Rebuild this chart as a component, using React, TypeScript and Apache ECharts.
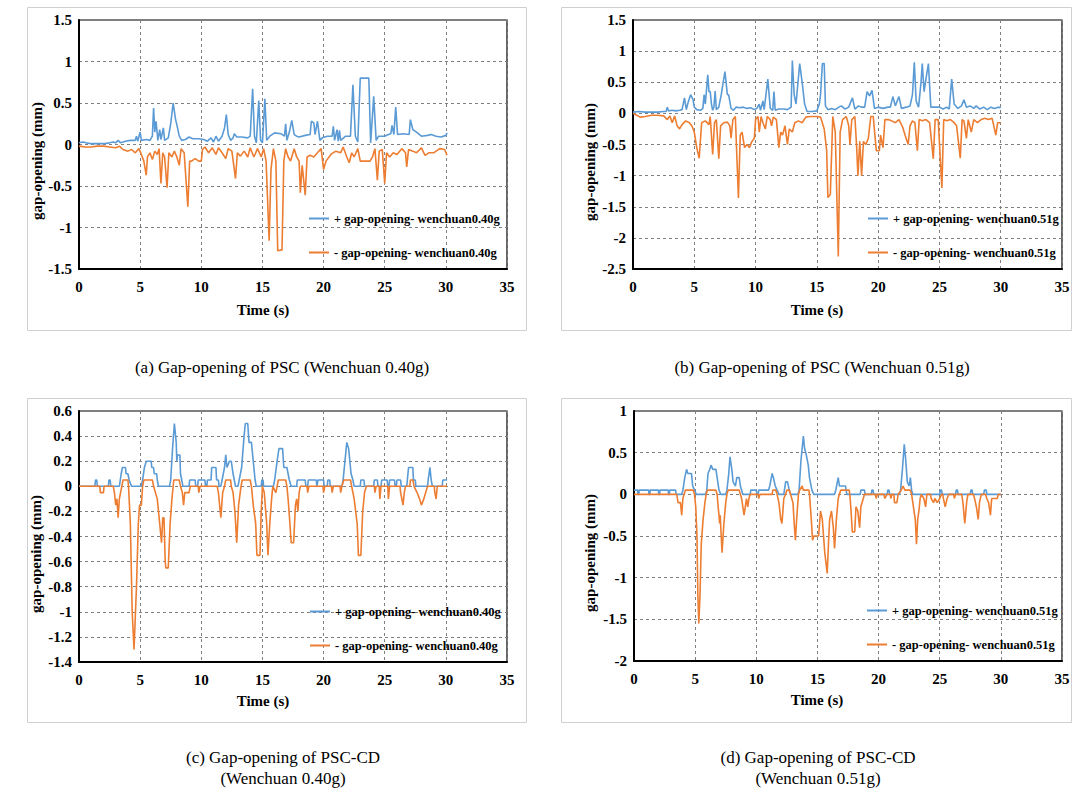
import React, { useEffect, useRef } from "react";
import * as echarts from "echarts";

type Pt = [number, number];

// ---------- data (time s, gap-opening mm) ----------
const aPos: Pt[] = [[0,0.02],[0.3,0.03],[0.6,0.02],[1,0.01],[1.5,0.01],[2,0.01],[2.5,0.02],[2.8,0.03],[3,0.02],[3.2,0.05],[3.4,0.02],[3.8,0.04],[4.2,0.05],[4.6,0.05],[4.7,0.1],[4.8,0.04],[5.0,0.15],[5.1,0.05],[5.5,0.06],[5.8,0.05],[6.0,0.1],[6.1,0.44],[6.2,0.15],[6.3,0.28],[6.45,0.05],[6.6,0.18],[6.7,0.06],[6.9,0.2],[7.0,0.05],[7.3,0.08],[7.5,0.25],[7.7,0.5],[7.9,0.3],[8.0,0.24],[8.2,0.1],[8.4,0.05],[8.7,0.06],[9.0,0.09],[9.3,0.07],[9.8,0.07],[10.2,0.06],[10.5,0.04],[10.8,0.08],[11.0,0.03],[11.2,0.1],[11.4,0.04],[11.7,0.1],[11.9,0.2],[12.05,0.36],[12.2,0.12],[12.4,0.05],[12.6,0.08],[12.7,0.13],[12.9,0.09],[13.3,0.09],[13.8,0.08],[14.0,0.1],[14.2,0.67],[14.35,0.1],[14.5,0.02],[14.7,0.53],[14.85,0.05],[15.0,0.02],[15.2,0.55],[15.35,0.05],[15.6,0.1],[16.0,0.14],[16.5,0.13],[16.8,0.1],[16.9,0.25],[17.0,0.05],[17.2,0.15],[17.4,0.29],[17.6,0.12],[17.8,0.1],[18.0,0.09],[18.5,0.11],[18.9,0.12],[19.0,0.28],[19.2,0.26],[19.3,0.12],[19.5,0.28],[19.7,0.05],[19.9,0.08],[20.3,0.1],[20.7,0.1],[20.8,0.22],[20.9,0.05],[21.1,0.18],[21.2,0.04],[21.3,0.17],[21.4,0.05],[21.8,0.1],[22.2,0.1],[22.4,0.72],[22.6,0.1],[22.8,0.03],[23.0,0.8],[23.7,0.8],[23.85,0.02],[24.1,0.58],[24.3,0.05],[24.5,0.1],[25.0,0.1],[25.3,0.12],[25.5,0.13],[25.6,0.23],[25.75,0.12],[25.9,0.45],[26.05,0.12],[26.5,0.13],[27.0,0.12],[27.1,0.3],[27.3,0.18],[27.6,0.15],[28.0,0.1],[28.5,0.11],[28.8,0.12],[29.2,0.1],[29.6,0.09],[30.0,0.11],[30.1,0.14]];
const aNeg: Pt[] = [[0,-0.02],[0.5,-0.03],[1,-0.03],[1.5,-0.02],[2,-0.02],[2.5,-0.03],[3,-0.04],[3.3,-0.02],[3.6,-0.06],[4.0,-0.08],[4.3,-0.06],[4.6,-0.1],[4.9,-0.05],[5.1,-0.12],[5.3,-0.2],[5.5,-0.37],[5.6,-0.15],[5.8,-0.1],[6.0,-0.18],[6.2,-0.08],[6.4,-0.12],[6.55,-0.05],[6.7,-0.47],[6.85,-0.1],[7.0,-0.15],[7.2,-0.52],[7.35,-0.1],[7.6,-0.15],[7.8,-0.08],[8.0,-0.15],[8.2,-0.25],[8.35,-0.05],[8.6,-0.1],[8.9,-0.75],[9.05,-0.2],[9.2,-0.2],[9.5,-0.17],[9.8,-0.2],[10.0,-0.2],[10.1,-0.06],[10.3,-0.03],[10.6,-0.1],[10.9,-0.04],[11.2,-0.12],[11.4,-0.04],[11.7,-0.1],[12.0,-0.17],[12.2,-0.05],[12.5,-0.08],[12.8,-0.41],[12.95,-0.1],[13.2,-0.14],[13.5,-0.08],[13.8,-0.15],[14.0,-0.04],[14.3,-0.15],[14.6,-0.05],[14.9,-0.15],[15.1,-0.05],[15.3,-0.2],[15.55,-1.16],[15.7,-0.3],[15.9,-0.05],[16.1,-0.2],[16.25,-1.28],[16.6,-1.27],[16.75,-0.2],[16.9,-0.05],[17.1,-0.15],[17.3,-0.2],[17.6,-0.05],[17.8,-0.15],[18.0,-0.2],[18.1,-0.58],[18.25,-0.25],[18.5,-0.61],[18.65,-0.15],[18.9,-0.13],[19.2,-0.15],[19.5,-0.1],[19.8,-0.05],[20.0,-0.3],[20.2,-0.2],[20.6,-0.12],[21.0,-0.08],[21.4,-0.1],[21.6,-0.03],[21.9,-0.15],[22.1,-0.22],[22.3,-0.1],[22.5,-0.15],[22.8,-0.05],[23.0,-0.2],[23.8,-0.2],[24.0,-0.15],[24.2,-0.05],[24.4,-0.43],[24.55,-0.08],[24.8,-0.06],[25.0,-0.47],[25.15,-0.1],[25.4,-0.15],[25.7,-0.1],[26.0,-0.12],[26.4,-0.05],[26.7,-0.1],[26.8,-0.27],[26.95,-0.06],[27.3,-0.08],[27.6,-0.1],[28.0,-0.04],[28.3,-0.13],[28.6,-0.1],[29.0,-0.1],[29.5,-0.05],[29.9,-0.06],[30.1,-0.13]];

const bPos: Pt[] = [[0,0.02],[0.5,0.03],[1,0.02],[1.5,0.02],[2,0.02],[2.5,0.03],[2.7,0.03],[2.8,0.1],[2.9,0.04],[3.2,0.05],[3.5,0.04],[3.8,0.05],[4.0,0.06],[4.2,0.25],[4.35,0.06],[4.5,0.18],[4.7,0.3],[4.9,0.22],[5.0,0.1],[5.2,0.06],[5.5,0.05],[5.7,0.08],[5.8,0.3],[5.9,0.15],[6.1,0.62],[6.2,0.35],[6.3,0.35],[6.4,0.15],[6.5,0.05],[6.6,0.1],[6.7,0.36],[6.8,0.06],[7.0,0.1],[7.2,0.3],[7.5,0.67],[7.7,0.3],[7.8,0.3],[8.0,0.08],[8.2,0.05],[8.4,0.1],[8.7,0.09],[9.0,0.1],[9.3,0.08],[9.6,0.09],[9.9,0.06],[10.1,0.08],[10.3,0.15],[10.4,0.05],[10.6,0.2],[10.7,0.06],[11.0,0.55],[11.2,0.08],[11.4,0.05],[11.5,0.35],[11.6,0.05],[11.9,0.07],[12.3,0.07],[12.6,0.06],[12.9,0.1],[13.0,0.85],[13.15,0.3],[13.3,0.15],[13.6,0.8],[13.8,0.5],[14.0,0.15],[14.2,0.03],[14.6,0.03],[15.0,0.04],[15.2,0.15],[15.3,0.3],[15.45,0.8],[15.6,0.8],[15.7,0.12],[15.9,0.06],[16.2,0.08],[16.5,0.06],[16.8,0.1],[17.0,0.12],[17.3,0.07],[17.6,0.1],[17.9,0.25],[18.1,0.07],[18.4,0.12],[18.6,0.1],[18.9,0.1],[19.1,0.35],[19.3,0.28],[19.5,0.37],[19.7,0.08],[20.0,0.1],[20.4,0.08],[20.8,0.1],[21.0,0.1],[21.2,0.27],[21.4,0.12],[21.7,0.27],[21.9,0.08],[22.3,0.1],[22.6,0.12],[22.8,0.3],[22.95,0.82],[23.1,0.2],[23.3,0.1],[23.5,0.5],[23.6,0.8],[23.75,0.35],[23.9,0.55],[24.1,0.8],[24.3,0.1],[24.6,0.1],[25.0,0.1],[25.3,0.07],[25.6,0.1],[25.8,0.07],[26.0,0.55],[26.2,0.15],[26.5,0.08],[26.8,0.12],[27.0,0.22],[27.2,0.1],[27.5,0.12],[27.8,0.08],[28.0,0.12],[28.3,0.07],[28.6,0.1],[28.9,0.06],[29.2,0.1],[29.5,0.08],[29.8,0.1],[30.0,0.09]];
const bNeg: Pt[] = [[0,0],[0.3,-0.03],[0.6,-0.06],[1.0,-0.05],[1.5,-0.03],[2.0,-0.03],[2.5,-0.04],[2.8,-0.1],[3.0,-0.04],[3.2,-0.15],[3.4,-0.04],[3.6,-0.2],[3.8,-0.25],[4.0,-0.18],[4.3,-0.12],[4.6,-0.15],[4.8,-0.2],[5.0,-0.3],[5.2,-0.55],[5.4,-0.72],[5.6,-0.15],[5.9,-0.12],[6.2,-0.18],[6.3,-0.05],[6.5,-0.66],[6.65,-0.15],[6.8,-0.1],[7.0,-0.73],[7.15,-0.2],[7.4,-0.15],[7.7,-0.14],[7.9,-0.2],[8.0,-0.4],[8.15,-0.1],[8.35,-0.05],[8.6,-1.36],[8.75,-0.35],[8.9,-0.3],[9.1,-0.55],[9.3,-0.5],[9.5,-0.55],[9.7,-0.45],[9.9,-0.4],[10.0,-0.1],[10.2,-0.05],[10.3,-0.3],[10.45,-0.05],[10.6,-0.15],[10.8,-0.25],[10.95,-0.05],[11.2,-0.1],[11.3,-0.2],[11.45,-0.06],[11.7,-0.1],[11.9,-0.55],[12.05,-0.3],[12.2,-0.35],[12.4,-0.2],[12.6,-0.5],[12.75,-0.25],[13.0,-0.3],[13.2,-0.15],[13.5,-0.12],[13.8,-0.15],[14.1,-0.06],[14.5,-0.05],[15.0,-0.05],[15.3,-0.06],[15.6,-0.25],[15.8,-0.6],[15.9,-1.35],[16.1,-1.3],[16.3,-0.05],[16.5,-0.3],[16.75,-2.3],[16.9,-0.3],[17.1,-0.1],[17.4,-0.05],[17.6,-0.2],[17.7,-0.5],[17.85,-0.1],[18.1,-0.05],[18.25,-0.55],[18.35,-1.0],[18.5,-0.45],[18.65,-1.0],[18.8,-0.45],[19.0,-0.5],[19.2,-0.4],[19.4,-0.05],[19.6,-0.05],[19.85,-0.6],[20.1,-0.6],[20.2,-0.35],[20.4,-0.55],[20.55,-0.1],[20.8,-0.1],[21.1,-0.12],[21.4,-0.15],[21.7,-0.1],[22.0,-0.22],[22.2,-0.35],[22.45,-0.5],[22.6,-0.2],[22.8,-0.12],[23.0,-0.15],[23.2,-0.6],[23.35,-0.1],[23.6,-0.12],[23.9,-0.1],[24.2,-0.15],[24.5,-0.73],[24.65,-0.1],[24.9,-0.1],[25.2,-1.2],[25.35,-0.1],[25.6,-0.12],[25.9,-0.1],[26.2,-0.15],[26.4,-0.2],[26.7,-0.72],[26.85,-0.1],[27.0,-0.12],[27.2,-0.4],[27.35,-0.1],[27.6,-0.3],[27.8,-0.1],[28.1,-0.15],[28.4,-0.1],[28.7,-0.08],[29.0,-0.1],[29.3,-0.08],[29.6,-0.35],[29.75,-0.15],[30.0,-0.15]];

const cPos: Pt[] = [[0,0],[1.3,0],[1.35,0.05],[1.45,0.05],[1.5,0],[2.4,0],[2.45,0.05],[2.55,0.05],[2.6,0],[3.3,0],[3.45,0.1],[3.55,0.15],[3.8,0.15],[3.85,0.1],[4.0,0.1],[4.1,0.05],[4.3,0],[5.1,0],[5.2,0.05],[5.35,0.15],[5.5,0.2],[5.9,0.2],[5.95,0.15],[6.1,0.15],[6.15,0.1],[6.35,0.1],[6.4,0.05],[6.5,0],[7.4,0],[7.5,0.05],[7.65,0.3],[7.8,0.5],[7.95,0.35],[8.0,0.2],[8.05,0.25],[8.25,0.25],[8.3,0.1],[8.4,0.05],[8.5,0],[9.0,0],[9.05,0.05],[9.5,0.05],[9.55,0],[9.7,0],[9.75,0.05],[10.3,0.05],[10.35,0],[10.45,0],[10.5,0.05],[10.8,0.05],[10.85,0.15],[11.2,0.15],[11.25,0.05],[11.4,0.05],[11.45,0],[11.6,0],[11.7,0.05],[11.9,0.15],[12.0,0.25],[12.1,0.15],[12.3,0.2],[12.45,0.2],[12.6,0.1],[12.7,0.05],[12.8,0],[13.0,0],[13.1,0.05],[13.3,0.15],[13.5,0.4],[13.6,0.5],[13.8,0.5],[13.9,0.35],[14.1,0.35],[14.3,0.15],[14.4,0.05],[14.5,0],[14.9,0],[14.95,0.05],[15.05,0.05],[15.1,0],[15.9,0],[16.0,0.05],[16.2,0.2],[16.35,0.3],[16.65,0.3],[16.75,0.15],[17.0,0.15],[17.2,0.05],[17.35,0],[17.8,0],[17.85,0.05],[18.5,0.05],[18.55,0],[18.7,0],[18.75,0.05],[19.4,0.05],[19.45,0],[19.5,0],[19.55,0.05],[20.0,0.05],[20.05,0],[20.3,0],[20.35,0.05],[20.5,0.05],[20.55,0],[21.5,0],[21.6,0.05],[21.75,0.2],[21.9,0.35],[22.05,0.3],[22.25,0.1],[22.4,0.05],[22.5,0],[23.0,0],[23.05,0.05],[23.3,0.05],[23.35,0],[24.1,0],[24.15,0.05],[24.4,0.05],[24.45,0],[24.7,0],[24.75,0.05],[25.2,0.05],[25.25,0],[25.35,0],[25.4,0.05],[25.8,0.05],[25.85,0],[25.95,0],[26.0,0.05],[26.3,0.05],[26.35,0],[26.8,0],[26.85,0.05],[26.95,0.15],[27.3,0.15],[27.35,0.05],[27.5,0.05],[27.55,0],[28.5,0],[28.55,0.05],[28.7,0.15],[28.8,0.05],[28.9,0],[29.7,0],[29.75,0.05],[30.1,0.05]];
const cNeg: Pt[] = [[0,0],[1.7,0],[1.75,-0.05],[2.0,-0.05],[2.05,0],[2.8,0],[2.9,-0.05],[3.0,-0.15],[3.1,-0.1],[3.2,-0.25],[3.3,-0.1],[3.4,-0.05],[3.5,0],[3.6,0.05],[4.0,0.05],[4.05,0],[4.2,-0.3],[4.35,-1.0],[4.5,-1.3],[4.7,-0.8],[4.85,-0.3],[4.95,-0.15],[5.1,-0.15],[5.2,0],[5.3,0.05],[6.0,0.05],[6.1,0],[6.4,-0.1],[6.6,-0.3],[6.75,-0.45],[6.85,-0.25],[6.95,-0.25],[7.05,-0.6],[7.1,-0.65],[7.3,-0.65],[7.45,-0.3],[7.6,-0.1],[7.7,0],[7.75,0.05],[8.2,0.05],[8.3,0],[8.45,-0.05],[8.55,-0.15],[8.65,-0.05],[8.9,-0.05],[9.0,-0.05],[9.1,0],[9.75,0],[9.8,-0.05],[9.9,0],[11.3,0],[11.4,-0.05],[11.6,-0.25],[11.75,-0.05],[11.9,0],[12.0,0.05],[12.4,0.05],[12.45,0],[12.6,-0.05],[12.75,-0.2],[12.9,-0.45],[13.05,-0.15],[13.25,0],[13.35,0.05],[14.0,0.05],[14.1,0],[14.25,-0.15],[14.45,-0.3],[14.55,-0.55],[14.8,-0.55],[14.9,-0.2],[15.0,0],[15.15,-0.05],[15.35,-0.3],[15.45,-0.55],[15.6,-0.3],[15.75,-0.1],[15.85,0],[16.1,-0.05],[16.2,0],[16.3,0.05],[16.9,0.05],[17.0,0],[17.1,-0.1],[17.25,-0.3],[17.35,-0.45],[17.55,-0.45],[17.7,-0.15],[17.8,-0.1],[17.9,-0.2],[18.0,-0.05],[18.1,0],[18.65,0],[18.7,-0.05],[18.8,0],[19.95,0],[20.0,-0.05],[20.1,0],[20.65,0],[20.7,-0.05],[20.8,0],[21.35,0],[21.4,-0.05],[21.5,0],[21.65,0.05],[22.2,0.05],[22.3,0],[22.5,-0.1],[22.75,-0.3],[22.85,-0.55],[23.05,-0.55],[23.2,-0.2],[23.35,-0.05],[23.5,0],[24.15,0],[24.2,-0.05],[24.3,0],[24.55,0],[24.6,-0.1],[24.7,0],[25.25,0],[25.3,-0.1],[25.4,0],[26.25,0],[26.3,-0.05],[26.5,-0.15],[26.6,-0.05],[26.7,0],[27.05,0],[27.1,0.05],[27.3,0.05],[27.4,0],[27.65,-0.05],[27.85,-0.1],[28.0,-0.15],[28.2,-0.1],[28.35,-0.05],[28.5,0],[29.05,0],[29.1,-0.05],[29.2,-0.1],[29.3,0],[30.1,0]];

const dPos: Pt[] = [[0,0.05],[0.3,0.05],[0.32,0],[0.4,0],[0.42,0.05],[1.2,0.05],[1.22,0],[1.3,0],[1.32,0.05],[2.0,0.05],[2.02,0],[2.1,0],[2.12,0.05],[2.8,0.05],[2.82,0],[2.9,0],[2.92,0.05],[3.4,0.05],[3.45,0],[3.9,0],[4.0,0.05],[4.15,0.2],[4.3,0.3],[4.4,0.25],[4.7,0.25],[4.8,0.1],[4.95,0.05],[5.1,0],[5.85,0],[5.95,0.05],[6.05,0.25],[6.2,0.3],[6.3,0.35],[6.45,0.3],[6.7,0.3],[6.8,0.2],[6.95,0.05],[7.1,0],[7.5,0],[7.6,0.05],[7.75,0.25],[7.85,0.45],[8.0,0.3],[8.1,0.15],[8.3,0.1],[8.4,0.2],[8.6,0.2],[8.7,0.1],[8.8,0.05],[8.9,0],[9.5,0],[9.55,0.05],[10.0,0.05],[10.05,0],[10.15,0],[10.2,0.05],[11.0,0.05],[11.1,0.1],[11.3,0.25],[11.4,0.2],[11.55,0.1],[11.7,0.05],[11.85,0],[12.25,0],[12.3,0.05],[12.4,0.15],[12.55,0.15],[12.7,0.05],[12.8,0],[13.4,0],[13.5,0.05],[13.65,0.4],[13.85,0.7],[13.95,0.55],[14.05,0.5],[14.25,0.35],[14.35,0.2],[14.55,0.05],[14.7,0],[16.4,0],[16.5,0.05],[16.7,0.2],[16.8,0.1],[17.3,0.1],[17.4,0],[18.5,0],[18.55,0.05],[18.85,0.05],[18.9,0],[19.4,0],[19.45,0.05],[19.55,0.05],[19.6,0],[20.7,0],[20.75,0.05],[20.85,0.05],[20.9,0],[21.7,0],[21.8,0.05],[21.95,0.3],[22.1,0.6],[22.2,0.45],[22.35,0.15],[22.5,0.1],[22.6,0.2],[22.7,0.05],[22.8,0],[25.0,0],[25.05,0.05],[25.15,0.05],[25.2,0],[26.3,0],[26.35,0.05],[26.45,0.05],[26.5,0],[27.5,0],[27.55,0.05],[27.65,0.05],[27.7,0],[28.6,0],[28.65,0.05],[28.8,0.05],[28.85,0],[30.0,0]];
const dNeg: Pt[] = [[0,0],[3.5,0],[3.6,-0.1],[3.8,-0.1],[3.9,-0.25],[4.0,-0.05],[4.1,0],[4.2,0.05],[4.85,0.05],[4.95,0],[5.05,-0.15],[5.15,-0.5],[5.22,-1.2],[5.3,-1.55],[5.4,-1.2],[5.5,-0.6],[5.65,-0.3],[5.8,-0.1],[5.9,0],[6.0,0.05],[6.7,0.05],[6.8,0],[6.85,-0.1],[6.95,-0.25],[7.0,-0.35],[7.05,-0.25],[7.2,-0.7],[7.35,-0.35],[7.5,-0.1],[7.6,0],[7.7,0.05],[8.6,0.05],[8.7,0],[8.8,-0.05],[8.9,-0.15],[9.0,-0.25],[9.1,-0.15],[9.2,-0.05],[9.3,-0.15],[9.4,-0.05],[9.5,0],[10.15,0],[10.2,-0.05],[10.3,0],[11.3,0],[11.35,0.05],[11.6,0.05],[11.7,0],[11.85,-0.1],[12.0,-0.3],[12.1,-0.35],[12.25,-0.05],[12.4,0],[12.5,0.05],[12.7,0.05],[12.8,0],[13.0,-0.1],[13.1,-0.35],[13.2,-0.55],[13.3,-0.3],[13.45,0],[13.55,0.05],[13.75,0.1],[13.85,0.05],[14.3,0.05],[14.35,0],[14.4,-0.1],[14.5,-0.3],[14.6,-0.55],[14.7,-0.5],[15.1,-0.5],[15.25,-0.2],[15.4,-0.3],[15.6,-0.7],[15.8,-0.95],[15.9,-0.6],[16.0,-0.3],[16.15,-0.2],[16.3,-0.4],[16.4,-0.65],[16.55,-0.3],[16.7,-0.05],[16.8,0],[16.9,0.05],[17.6,0.05],[17.65,0],[17.75,-0.2],[17.85,-0.45],[18.05,-0.45],[18.15,-0.15],[18.3,-0.2],[18.45,-0.4],[18.55,-0.15],[18.75,-0.05],[18.85,0],[19.75,0],[19.8,-0.05],[19.9,0],[20.45,0],[20.5,-0.05],[20.7,0],[20.95,0],[21.0,-0.05],[21.1,0],[21.25,0],[21.3,-0.1],[21.5,-0.1],[21.6,0],[21.85,0.05],[22.0,0.1],[22.15,0.05],[22.6,0.05],[22.7,0],[22.8,-0.1],[23.0,-0.3],[23.1,-0.6],[23.2,-0.3],[23.3,-0.2],[23.4,-0.05],[23.5,0],[23.7,-0.05],[23.85,-0.15],[23.95,0],[24.25,0],[24.3,-0.05],[24.5,-0.1],[24.6,-0.05],[24.8,-0.1],[25.0,-0.05],[25.15,0],[25.25,0],[25.3,-0.05],[25.45,-0.15],[25.6,-0.05],[25.75,0],[26.15,0],[26.2,-0.05],[26.3,0],[26.8,0],[26.9,-0.1],[27.05,-0.35],[27.2,-0.1],[27.3,0],[27.75,0],[27.85,-0.05],[28.0,-0.15],[28.15,-0.3],[28.25,-0.1],[28.4,0],[28.75,0],[28.85,-0.05],[29.0,-0.1],[29.15,-0.25],[29.25,-0.05],[29.5,-0.05],[29.7,-0.05],[29.8,0],[30.0,0]];

const posName040 = "+ gap-opening- wenchuan0.40g";
const negName040 = "- gap-opening- wenchuan0.40g";
const posName051 = "+ gap-opening- wenchuan0.51g";
const negName051 = "- gap-opening- wenchuan0.51g";

const yRanges = [
  { min: -1.5, max: 1.5, step: 0.5 },
  { min: -2.5, max: 1.5, step: 0.5 },
  { min: -1.4, max: 0.6, step: 0.2 },
  { min: -2, max: 1, step: 0.5 },
];
const xRange = { min: 0, max: 35, step: 5 };

const captions = [
  ["(a) Gap-opening of PSC (Wenchuan 0.40g)"],
  ["(b) Gap-opening of PSC (Wenchuan 0.51g)"],
  ["(c) Gap-opening of PSC-CD", "(Wenchuan 0.40g)"],
  ["(d) Gap-opening of PSC-CD", "(Wenchuan 0.51g)"],
];
const xName = "Time (s)";
const yName = "gap-opening (mm)";

const BLUE = "#5B9BD5";
const ORANGE = "#ED7D31";
const FONT = "Liberation Serif, serif";

const panels = [
  { pos: aPos, neg: aNeg, names: [posName040, negName040], grid: { left: 79, top: 20, width: 428, height: 249 }, legend: { left: 304, top: 207 }, xName: [263, 310], yName: [37, 161], frame: [27, 7, 499, 323], cap: [282, 367] },
  { pos: bPos, neg: bNeg, names: [posName051, negName051], grid: { left: 633, top: 20, width: 429, height: 249 }, legend: { left: 863, top: 207 }, xName: [817, 310], yName: [590, 162], frame: [561, 7, 510, 323], cap: [822, 367] },
  { pos: cPos, neg: cNeg, names: [posName040, negName040], grid: { left: 79, top: 411, width: 428, height: 251 }, legend: { left: 305, top: 600 }, xName: [263, 701], yName: [36, 554], frame: [27, 398, 499, 324], cap: [283, 757] },
  { pos: dPos, neg: dNeg, names: [posName051, negName051], grid: { left: 634, top: 411, width: 428, height: 250 }, legend: { left: 862, top: 599 }, xName: [817, 700], yName: [590, 553], frame: [561, 398, 510, 324], cap: [818, 757] },
];

export default function App() {
  const ref = useRef<HTMLDivElement>(null);
  useEffect(() => {
    if (!ref.current) return;
    const chart = echarts.init(ref.current, undefined, { renderer: "svg" });
    const labelStyle = { fontFamily: FONT, fontWeight: "bold" as const, fontSize: 15, color: "#000" };
    const split = { show: true, lineStyle: { type: [3, 3] as any, color: "#7f7f7f", width: 1 } };
    const graphics: any[] = [];
    panels.forEach((p, i) => {
      graphics.push({ type: "rect", z: -1, silent: true, shape: { x: p.frame[0] + 0.5, y: p.frame[1] + 0.5, width: p.frame[2], height: p.frame[3] }, style: { fill: "none", stroke: "#d0d0d0", lineWidth: 1 } });
      graphics.push({ type: "text", x: p.xName[0], y: p.xName[1], style: { text: xName, fontFamily: FONT, fontWeight: "bold", fontSize: 15, fill: "#000", align: "center", verticalAlign: "middle" } });
      graphics.push({ type: "text", x: p.yName[0], y: p.yName[1], rotation: Math.PI / 2, style: { text: yName, fontFamily: FONT, fontWeight: "bold", fontSize: 15, fill: "#000", align: "center", verticalAlign: "middle" } });
      captions[i].forEach((line, k) => {
        graphics.push({ type: "text", x: p.cap[0], y: p.cap[1] + k * 21, style: { text: line, fontFamily: FONT, fontSize: 17, fill: "#000", align: "center", verticalAlign: "middle" } });
      });
    });
    chart.setOption({
      animation: false,
      backgroundColor: "#fff",
      textStyle: { fontFamily: FONT },
      grid: panels.map((p) => ({ ...p.grid, show: true, borderColor: "#000", borderWidth: 1.2, backgroundColor: "transparent" })),
      xAxis: panels.map((p, i) => ({
        type: "value", gridIndex: i, min: xRange.min, max: xRange.max, interval: xRange.step,
        axisLine: { show: true, onZero: false, lineStyle: { color: "#000", width: 2 } },
        axisTick: { show: false },
        axisLabel: { ...labelStyle, margin: 10 },
        splitLine: split,
      })),
      yAxis: panels.map((p, i) => ({
        type: "value", gridIndex: i, min: yRanges[i].min, max: yRanges[i].max, interval: yRanges[i].step,
        axisLine: { show: true, onZero: false, lineStyle: { color: "#000", width: 2 } },
        axisTick: { show: false },
        axisLabel: { ...labelStyle, margin: 7 },
        splitLine: split,
      })),
      legend: panels.map((p) => ({
        left: p.legend.left, top: p.legend.top, orient: "vertical", itemGap: 21,
        itemWidth: 20, itemHeight: 2, icon: "rect",
        textStyle: { fontFamily: FONT, fontWeight: "bold", fontSize: 12.5, color: "#000" },
        data: p.names, selectedMode: false,
      })),
      series: panels.flatMap((p, i) => [
        { type: "line", name: p.names[0], xAxisIndex: i, yAxisIndex: i, data: p.pos, showSymbol: false, symbol: "none", color: BLUE, lineStyle: { color: BLUE, width: 1.6 } },
        { type: "line", name: p.names[1], xAxisIndex: i, yAxisIndex: i, data: p.neg, showSymbol: false, symbol: "none", color: ORANGE, lineStyle: { color: ORANGE, width: 1.6 } },
      ]),
      graphic: graphics,
    });
    return () => chart.dispose();
  }, []);
  return <div ref={ref} style={{ position: "absolute", left: 0, top: 0, width: 1073, height: 790, background: "#fff" }} />;
}
